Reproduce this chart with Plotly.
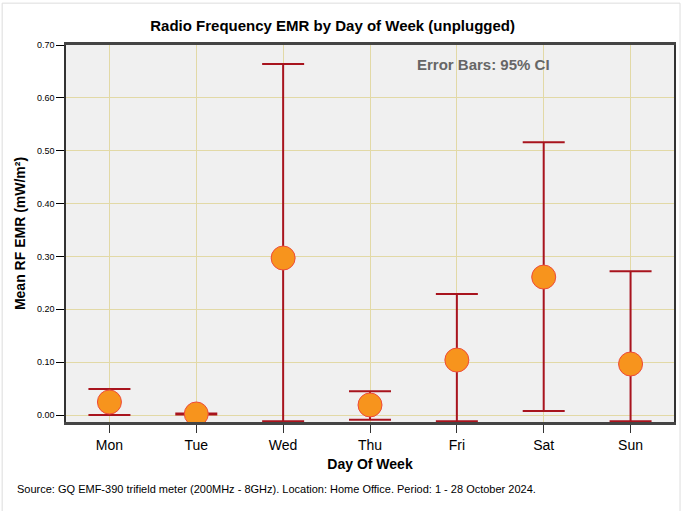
import plotly.graph_objects as go

days = ["Mon", "Tue", "Wed", "Thu", "Fri", "Sat", "Sun"]
mean_emr = [0.0246, 0.002, 0.297, 0.019, 0.104, 0.261, 0.0965]
ci_upper = [0.049, 0.003, 0.664, 0.045, 0.229, 0.516, 0.272]
ci_lower = [0.000, 0.001, -0.012, -0.009, -0.012, 0.0076, -0.012]
y_ticks = [0.0, 0.1, 0.2, 0.3, 0.4, 0.5, 0.6, 0.7]

err_plus = [u - m for u, m in zip(ci_upper, mean_emr)]
err_minus = [m - l for m, l in zip(mean_emr, ci_lower)]

FONT = "Arial, Liberation Sans, sans-serif"

fig = go.Figure()
fig.add_trace(go.Scatter(
    x=days, y=mean_emr, mode="markers",
    marker=dict(size=24, color="#F7941D", line=dict(color="#EE4A3A", width=1)),
    error_y=dict(type="data", symmetric=False, array=err_plus, arrayminus=err_minus,
                 color="#A8141E", thickness=2, width=21),
    showlegend=False,
))

fig.update_layout(
    width=683, height=511,
    margin=dict(l=66, r=9, t=45, b=89, autoexpand=False),
    paper_bgcolor="white", plot_bgcolor="#F0F0F0",
    font=dict(family=FONT, color="black"),
    title=dict(text="<b>Radio Frequency EMR by Day of Week (unplugged)</b>",
               x=0.487, xanchor="center", y=0.949, yanchor="middle",
               yref="container", xref="container",
               font=dict(size=15, family=FONT, color="black")),
    xaxis=dict(
        range=[-0.5, 6.5], tickfont=dict(size=14), ticks="outside", ticklen=8,
        tickcolor="#333", showgrid=True, gridcolor="#E2D9A6", gridwidth=1,
        showline=True, linecolor="#444", linewidth=2.5, mirror=True,
        automargin=False,
        title=dict(text="<b>Day Of Week</b>", font=dict(size=14), standoff=8),
    ),
    yaxis=dict(
        range=[-0.0132, 0.70], tickvals=y_ticks, tickformat=".2f",
        tickfont=dict(size=9), ticks="outside", ticklen=8, tickcolor="black",
        showgrid=True, gridcolor="#E2D9A6", gridwidth=1, zeroline=False,
        showline=True, linecolor="#333", linewidth=1.5, mirror=True,
        automargin=False,
        title=dict(text="<b>Mean RF EMR (mW/m²)</b>", font=dict(size=14), standoff=8),
    ),
    annotations=[
        dict(text="<b>Error Bars: 95% CI</b>", x=0.687, y=0.947, xref="paper", yref="paper",
             xanchor="center", yanchor="middle", showarrow=False,
             font=dict(size=15, color="#666666", family=FONT)),
        dict(text="Source: GQ EMF-390 trifield meter (200MHz - 8GHz). Location: Home Office. Period: 1 - 28 October 2024.",
             x=-0.084, y=-0.178, xref="paper", yref="paper", xanchor="left", yanchor="middle",
             showarrow=False, font=dict(size=11, color="black", family=FONT)),
    ],
    shapes=[
        dict(type="rect", xref="paper", yref="paper",
             x0=-0.105, x1=1.0099, y0=-0.247, y1=1.111,
             line=dict(color="#DDDDDD", width=1), layer="below"),
    ],
)

fig.write_html("out.html", config={"displayModeBar": False},
               post_script="document.body.style.margin='0';")
